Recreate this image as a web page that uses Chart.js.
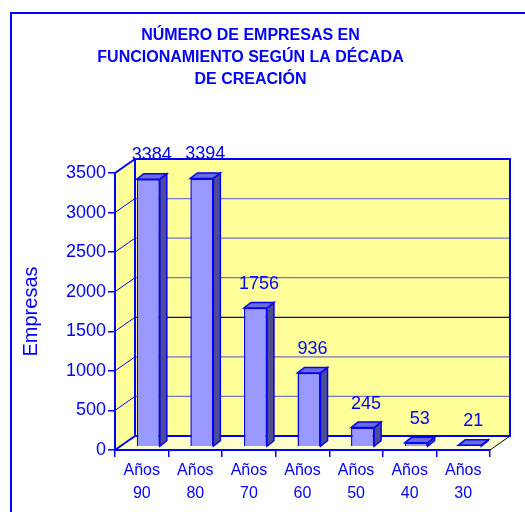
<!DOCTYPE html>
<html>
<head>
<meta charset="utf-8">
<script src="https://cdn.jsdelivr.net/npm/chart.js@4.4.0/dist/chart.umd.min.js"></script>
<style>
  body { margin: 0; background: #ffffff; }
  #wrap { width: 525px; height: 512px; }
</style>
</head>
<body>
<div id="wrap"><canvas id="chart" width="525" height="512"></canvas></div>
<script>
// data
const decadas = [['Años', '90'], ['Años', '80'], ['Años', '70'], ['Años', '60'], ['Años', '50'], ['Años', '40'], ['Años', '30']];
const empresas = [3384, 3394, 1756, 936, 245, 53, 21];
const titulo = ['NÚMERO DE EMPRESAS EN', 'FUNCIONAMIENTO SEGÚN LA DÉCADA', 'DE CREACIÓN'];
const yMax = 3500;
const yStep = 500;

const BLUE = '#0000ff';
const FONT = "'Liberation Sans', Arial, sans-serif";

// fake 3d: wall depth, bar shift into the depth, bar own depth
const DX = 20, DY = -14;
const BX = 6.5, BY = -3;
const SX = 7, SY = -5.5;

function poly(ctx, pts) {
  ctx.beginPath();
  ctx.moveTo(pts[0][0], pts[0][1]);
  for (let i = 1; i < pts.length; i++) ctx.lineTo(pts[i][0], pts[i][1]);
  ctx.closePath();
}

const walls = {
  id: 'walls',
  beforeDraw(chart) {
    const { ctx, chartArea: a, scales: { y } } = chart;
    ctx.save();
    ctx.strokeStyle = BLUE;
    ctx.lineWidth = 2;
    ctx.strokeRect(11, 13, 700, 700);

    // floor
    ctx.fillStyle = '#ffffcc';
    poly(ctx, [[a.left, a.bottom], [a.right, a.bottom], [a.right + DX, a.bottom + DY], [a.left + DX, a.bottom + DY]]);
    ctx.fill();
    ctx.strokeStyle = '#000000';
    ctx.lineWidth = 1;
    ctx.beginPath();
    ctx.moveTo(a.right, a.bottom);
    ctx.lineTo(a.right + DX, a.bottom + DY);
    ctx.stroke();

    // side wall + back wall
    ctx.fillStyle = '#ffff99';
    poly(ctx, [[a.left, a.bottom], [a.left, a.top], [a.left + DX, a.top + DY], [a.left + DX, a.bottom + DY]]);
    ctx.fill();
    ctx.fillRect(a.left + DX, a.top + DY, a.right - a.left, a.bottom - a.top);

    // grid on the walls
    y.ticks.forEach(t => {
      const py = y.getPixelForValue(t.value);
      if (t.value > 0 && t.value < yMax) {
        ctx.strokeStyle = t.value === 1500 ? '#0000a0' : '#7373c8';
        ctx.lineWidth = 1.2;
        ctx.beginPath();
        ctx.moveTo(a.left + DX, py + DY);
        ctx.lineTo(a.right + DX, py + DY);
        ctx.stroke();
      }
      ctx.strokeStyle = BLUE;
      ctx.lineWidth = (t.value === 0 || t.value === yMax) ? 2 : 1;
      ctx.beginPath();
      ctx.moveTo(a.left, py);
      ctx.lineTo(a.left + DX, py + DY);
      ctx.stroke();
    });
    ctx.strokeStyle = BLUE;
    ctx.lineWidth = 2;
    ctx.strokeRect(a.left + DX, a.top + DY, a.right - a.left, a.bottom - a.top);
    ctx.restore();
  },
  beforeDatasetsDraw(chart) {
    chart.ctx.save();
    chart.ctx.translate(BX, BY);
  },
  afterDatasetsDraw(chart) {
    const ctx = chart.ctx;
    const bars = chart.getDatasetMeta(0).data;
    bars.forEach(b => {
      const { x, y, base, width } = b.getProps(['x', 'y', 'base', 'width'], true);
      const l = x - width / 2, r = x + width / 2;
      ctx.lineWidth = 1.5;
      ctx.strokeStyle = BLUE;
      ctx.fillStyle = '#4d4d8f';
      poly(ctx, [[r, y], [r + SX, y + SY], [r + SX, base + SY], [r, base]]);
      ctx.fill();
      ctx.stroke();
      ctx.fillStyle = '#6b6bd9';
      poly(ctx, [[l, y], [l + SX, y + SY], [r + SX, y + SY], [r, y]]);
      ctx.fill();
      ctx.stroke();
    });
    ctx.restore();

    // value labels
    ctx.save();
    ctx.fillStyle = BLUE;
    ctx.font = '18px ' + FONT;
    ctx.textAlign = 'center';
    ctx.textBaseline = 'middle';
    bars.forEach((b, i) => {
      ctx.fillText(String(empresas[i]), b.x + BX + SX / 2, b.y + BY - 24);
    });
    ctx.restore();
  }
};

new Chart(document.getElementById('chart'), {
  type: 'bar',
  data: {
    labels: decadas,
    datasets: [{
      data: empresas,
      backgroundColor: '#9999ff',
      borderColor: BLUE,
      borderWidth: 1.5,
      barPercentage: 0.43,
      categoryPercentage: 1,
      clip: false
    }]
  },
  options: {
    responsive: false,
    animation: false,
    events: [],
    layout: { padding: { left: 11, right: 35, top: 0, bottom: 0 } },
    plugins: {
      legend: { display: false },
      tooltip: { enabled: false },
      title: {
        display: true,
        text: titulo,
        color: BLUE,
        font: { family: FONT, size: 16, weight: 'bold', lineHeight: '22px' },
        padding: { top: 25, bottom: 82 }
      }
    },
    scales: {
      x: {
        offset: true,
        afterFit: s => { s.height = 62; },
        grid: { offset: true, drawOnChartArea: false, drawTicks: true, tickLength: 7, color: BLUE, lineWidth: 1.5 },
        border: { color: BLUE, width: 2 },
        ticks: { color: BLUE, padding: 2, font: { family: FONT, size: 16, lineHeight: '23px' }, maxRotation: 0 }
      },
      y: {
        min: 0,
        max: yMax,
        afterFit: s => { s.width = 104; },
        grid: { drawOnChartArea: false, drawTicks: true, tickLength: 7, color: BLUE, lineWidth: 1.5 },
        border: { color: BLUE, width: 2 },
        ticks: { stepSize: yStep, color: BLUE, padding: 2, font: { family: FONT, size: 18 }, callback: v => String(v) },
        title: { display: true, text: 'Empresas', color: BLUE, padding: { top: 8, bottom: 0 }, font: { family: FONT, size: 20, lineHeight: 1.2 } }
      }
    }
  },
  plugins: [walls]
});
</script>
</body>
</html>
